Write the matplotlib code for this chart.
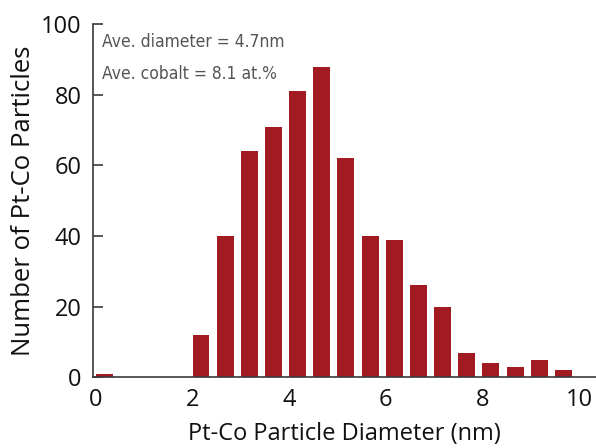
import matplotlib
matplotlib.use('Agg')
import matplotlib.pyplot as plt

# histogram bins (left edge, nm) and counts
bin_left = [0.0, 2.0, 2.5, 3.0, 3.5, 4.0, 4.5, 5.0, 5.5, 6.0, 6.5, 7.0, 7.5, 8.0, 8.5, 9.0, 9.5]
counts = [1, 12, 40, 64, 71, 81, 88, 62, 40, 39, 26, 20, 7, 4, 3, 5, 2]
x_ticks = [0, 2, 4, 6, 8, 10]
y_ticks = [0, 20, 40, 60, 80, 100]
notes = ['Ave. diameter = 4.7nm', 'Ave. cobalt = 8.1 at.%']

plt.rcParams['font.family'] = ['Open Sans', 'DejaVu Sans']

fig = plt.figure(figsize=(5.96, 4.48), dpi=100)
ax = fig.add_axes([0.156, 0.158, 0.844, 0.788])

ax.bar(bin_left, counts, width=0.35, align='edge', color='#a31b22', zorder=2)

ax.set_xlim(-0.06, 10.35)
ax.set_ylim(0, 100)
ax.set_xticks(x_ticks)
ax.set_yticks(y_ticks)

for side in ['top', 'right']:
    ax.spines[side].set_visible(False)
for side in ['left', 'bottom']:
    ax.spines[side].set_color('#3a3a3a')
    ax.spines[side].set_linewidth(1.2)

ax.tick_params(axis='x', length=0, pad=8, labelsize=17, colors='#111111')
ax.tick_params(axis='y', direction='in', length=7, width=1.2, color='#3a3a3a',
               pad=8, labelsize=17, labelcolor='#111111')

ax.set_xlabel('Pt-Co Particle Diameter (nm)', fontsize=17, color='#111111', labelpad=7)
ax.set_ylabel('Number of Pt-Co Particles', fontsize=18.5, color='#111111', labelpad=4)

# condensed font for the two notes
ax.text(0.12, 95, notes[0], fontsize=12.5, color='#555555', family='DejaVu Sans',
        stretch='condensed', va='center')
ax.text(0.12, 86, notes[1], fontsize=12.5, color='#555555', family='DejaVu Sans',
        stretch='condensed', va='center')

fig.savefig('out.png', dpi=100)
